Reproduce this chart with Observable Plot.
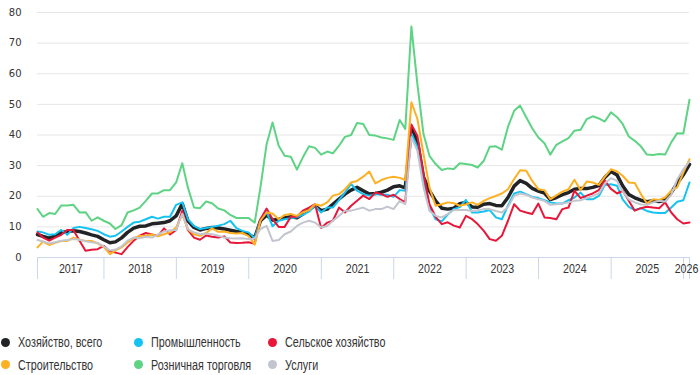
<!DOCTYPE html>
<html><head><meta charset="utf-8">
<script src="https://cdn.jsdelivr.net/npm/d3@7"></script>
<script src="https://cdn.jsdelivr.net/npm/@observablehq/plot@0.6"></script>
<style>
html,body{margin:0;padding:0;background:#fff;}
body{width:700px;height:375px;overflow:hidden;}
#legend{padding-top:41px;display:grid;grid-template-columns:133px 134px 220px;grid-auto-rows:22.5px;
  font-family:"Liberation Sans",Arial,sans-serif;font-size:14px;color:#333;}
.item{display:flex;align-items:center;white-space:nowrap;}
.dot{width:9px;height:9px;border-radius:50%;margin-left:1px;margin-right:8px;flex:none;}
.lab{display:inline-block;transform:scaleX(0.77);transform-origin:0 50%;}
</style></head>
<body><div id="chart"></div><div id="legend"></div>
<script>
// Series names (legend order) and colours
const seriesNames = ["Хозяйство, всего", "Промышленность", "Сельское хозяйство", "Строительство", "Розничная торговля", "Услуги"];
const seriesColors = ["#222326", "#14c3f2", "#e8173a", "#fdb022", "#5ed384", "#c3c5ce"];
const seriesWidths = [3.5, 2, 2, 2, 2, 2];
const startYear = 2017; // monthly values, Jan 2017 .. Jan 2026
const yTicks = [0, 10, 20, 30, 40, 50, 60, 70, 80];

const economy = [
  7.5, 6.9, 6.3, 7.1, 8.1, 8.5, 8.7, 8.5, 8.0, 7.4, 6.9, 5.8,
  4.8, 5.1, 6.4, 8.2, 9.6, 10.2, 10.3, 11.0, 11.2, 11.4, 12.0, 13.6,
  17.5, 12.0, 9.8, 9.0, 9.5, 9.8, 9.6, 9.3, 8.9, 8.5, 8.2, 7.6,
  6.4, 12.0, 13.8, 12.2, 12.5, 12.9, 13.3, 13.0, 14.2, 15.8, 16.9, 15.3,
  15.8, 17.4, 19.1, 20.7, 22.0, 22.9, 21.8, 20.7, 20.9, 21.3, 22.0, 23.1,
  23.4, 22.7, 42.0, 38.0, 26.2, 21.8, 18.5, 16.1, 15.8, 16.1, 17.6, 18.0,
  16.5, 16.4, 17.4, 17.6, 17.0, 16.9, 19.6, 23.3, 25.1, 24.2, 22.6, 21.7,
  21.0, 18.9, 19.6, 20.5, 21.2, 22.3, 22.5, 22.5, 22.9, 23.5, 26.1, 28.1,
  26.9, 23.4, 20.6, 19.5, 18.7, 18.2, 18.5, 18.3, 18.7, 21.2, 24.3, 27.0,
  30.4
];
const industry = [
  8.5, 8.2, 7.4, 7.6, 9.0, 7.4, 9.6, 10.0, 9.6, 9.2, 8.7, 7.6,
  6.8, 7.1, 8.5, 10.0, 11.4, 11.7, 12.5, 13.3, 12.7, 13.3, 13.3, 17.2,
  18.0, 12.5, 10.3, 9.3, 9.6, 10.0, 10.4, 10.9, 12.0, 9.6, 8.7, 8.2,
  6.3, 12.5, 14.8, 10.2, 12.0, 12.5, 12.8, 13.1, 13.9, 15.0, 16.9, 14.7,
  16.3, 16.3, 18.7, 21.2, 24.0, 21.8, 20.7, 20.2, 20.7, 20.5, 20.5, 19.8,
  22.0, 21.8, 40.5, 36.0, 25.0, 16.4, 12.5, 11.8, 14.0, 15.8, 16.5, 18.8,
  14.7, 14.7, 15.0, 15.5, 13.1, 12.5, 17.0, 20.9, 21.5, 20.7, 19.8, 19.4,
  18.7, 18.0, 17.6, 17.6, 18.7, 19.6, 21.2, 19.0, 19.0, 20.1, 23.7, 23.9,
  23.4, 19.0, 16.5, 15.5, 16.1, 15.2, 14.7, 14.5, 14.5, 16.3, 18.2, 18.7,
  24.5
];
const agriculture = [
  8.2, 6.5, 5.5, 6.5, 7.4, 9.0, 9.0, 5.5, 2.2, 2.5, 2.7, 3.8,
  2.0, 1.6, 1.1, 3.4, 5.5, 7.1, 8.0, 7.5, 7.0, 9.5, 7.5, 9.0,
  15.3, 9.0, 6.5, 5.8, 7.2, 6.8, 6.5, 6.9, 4.9, 4.7, 4.8, 5.0,
  4.5, 12.5, 16.0, 12.5, 10.0, 10.0, 13.3, 13.3, 15.3, 16.3, 17.4, 9.6,
  11.4, 12.0, 16.3, 14.7, 16.9, 18.5, 20.2, 19.1, 21.2, 20.7, 19.8, 20.5,
  19.1, 18.0, 43.4, 39.8, 27.3, 17.4, 13.3, 10.9, 11.5, 10.4, 9.8, 13.6,
  12.5, 10.9, 8.7, 6.0, 5.5, 7.1, 12.0, 17.4, 15.3, 14.7, 14.2, 17.6,
  13.1, 12.9, 12.5, 15.8, 16.3, 21.8, 19.4, 20.2, 20.9, 22.0, 25.1, 22.4,
  20.9, 21.8, 18.5, 15.3, 16.1, 16.6, 16.3, 16.1, 18.0, 14.7, 12.5, 11.1,
  11.4
];
const construction = [
  3.3, 5.2, 4.1, 4.8, 5.4, 5.4, 6.5, 5.8, 5.4, 5.4, 4.6, 3.5,
  1.1, 2.3, 3.3, 4.9, 6.3, 7.0, 7.1, 7.5, 6.9, 7.6, 8.2, 9.8,
  14.0, 9.2, 7.6, 7.1, 8.0, 9.5, 8.4, 8.5, 8.0, 7.8, 8.0, 7.0,
  4.2, 12.0, 14.7, 14.4, 12.5, 13.9, 14.2, 13.6, 14.7, 15.5, 17.4, 16.9,
  18.0, 20.2, 20.7, 22.3, 24.5, 25.0, 26.4, 28.1, 24.2, 25.3, 26.0, 26.4,
  26.0, 25.3, 50.7, 45.3, 33.8, 22.9, 16.9, 17.4, 18.0, 17.7, 16.9, 17.4,
  18.0, 17.2, 18.5, 19.4, 20.1, 20.9, 22.3, 25.6, 28.5, 28.3, 25.0, 22.3,
  22.0, 19.0, 20.3, 21.5, 22.3, 25.4, 22.0, 24.8, 24.5, 23.7, 26.3, 28.8,
  28.1, 26.7, 24.5, 24.3, 20.7, 17.7, 19.0, 18.8, 19.6, 21.8, 22.9, 27.7,
  32.1
];
const retail = [
  15.8, 13.3, 14.5, 14.2, 17.0, 17.0, 17.2, 14.7, 14.8, 12.0, 13.1, 12.0,
  11.1, 9.3, 10.6, 14.7, 15.4, 16.3, 18.5, 20.9, 20.9, 22.0, 22.0, 24.5,
  30.8, 22.9, 16.3, 16.1, 18.3, 17.7, 16.0, 15.4, 13.9, 12.9, 12.9, 12.9,
  11.4, 22.9, 37.0, 44.1, 36.5, 33.2, 32.9, 28.7, 32.7, 36.3, 35.8, 33.6,
  34.6, 34.0, 36.5, 39.4, 40.0, 43.9, 43.6, 40.0, 39.8, 39.2, 38.9, 38.4,
  44.9, 42.0, 75.4, 56.7, 40.3, 33.2, 30.5, 28.6, 29.1, 28.9, 30.8, 30.5,
  30.2, 29.4, 31.6, 36.2, 36.3, 35.2, 42.7, 47.9, 49.6, 45.8, 42.2, 39.2,
  37.3, 33.6, 36.8, 37.9, 39.0, 41.4, 41.7, 45.2, 46.1, 45.4, 44.4, 47.4,
  45.8, 43.6, 39.5, 38.1, 36.3, 33.6, 33.5, 33.8, 33.6, 37.6, 40.6, 40.5,
  51.5
];
const services = [
  5.7, 5.2, 4.6, 5.0, 5.5, 5.7, 6.0, 5.8, 5.3, 5.0, 4.8, 3.6,
  2.3, 2.6, 3.6, 5.5, 6.5, 6.3, 6.8, 6.5, 7.5, 8.5, 8.9, 9.0,
  14.3, 9.3, 8.2, 7.6, 7.8, 7.6, 7.1, 6.5, 6.3, 6.2, 6.3, 6.0,
  6.2, 9.3, 10.3, 5.4, 5.7, 7.6, 8.5, 10.3, 11.4, 12.0, 11.4, 9.8,
  10.3, 12.0, 13.6, 15.3, 15.3, 15.8, 16.3, 15.3, 15.8, 15.8, 16.6, 15.8,
  18.5, 17.4, 39.3, 34.9, 22.9, 15.3, 13.6, 13.1, 14.2, 15.5, 15.5, 15.5,
  15.2, 15.4, 15.8, 15.8, 15.2, 14.7, 16.5, 20.1, 20.9, 20.5, 19.6, 19.0,
  18.5, 17.2, 17.4, 17.6, 18.0, 18.5, 18.7, 19.4, 20.1, 20.9, 24.2, 25.9,
  25.0, 21.5, 19.0, 18.0, 17.3, 17.2, 18.0, 18.5, 18.3, 20.5, 25.5, 28.8,
  31.3
];

const allSeries = [economy, industry, agriculture, construction, retail, services];
const monthDate = i => new Date(Date.UTC(startYear, i + 1, 0)); // end of month
const n = economy.length;
const start = monthDate(0), end = monthDate(n - 1);
const rowsFor = arr => arr.map((v, i) => ({date: monthDate(i), value: v}));

const endYear = end.getUTCFullYear();
const boundaries = [start, ...d3.range(startYear + 1, endYear + 1).map(y => new Date(Date.UTC(y, 0, 1))), end];
const mids = d3.range(startYear, endYear + 1).map(y => {
  const a = Math.max(+start, Date.UTC(y, 0, 1)), b = Math.min(+end, Date.UTC(y + 1, 0, 1));
  return new Date((a + b) / 2);
});

const chart = Plot.plot({
  width: 700, height: 290,
  marginLeft: 37, marginRight: 11, marginTop: 12, marginBottom: 33,
  style: {background: "#fff", color: "#333", fontFamily: "DejaVu Sans, sans-serif"},
  x: {type: "utc", domain: [start, end]},
  y: {domain: [0, 80]},
  marks: [
    Plot.gridY(yTicks, {stroke: "#e6e6e6", strokeOpacity: 1}),
    Plot.axisY(yTicks, {tickSize: 0, tickPadding: 16, fontSize: 10, label: null, fill: "#333"}),
    ...allSeries.map((arr, k) => Plot.line(rowsFor(arr), {
      x: "date", y: "value", stroke: seriesColors[k], strokeWidth: seriesWidths[k],
      strokeLinejoin: "round", strokeLinecap: "round"
    })),
    Plot.ruleY([0], {stroke: "#ccd6eb", strokeWidth: 1}),
    Plot.axisX(boundaries, {tickSize: 22, stroke: "#ccd6eb", strokeOpacity: 1, tickFormat: () => "", label: null}),
    Plot.axisX(mids, {tickSize: 0, tickPadding: 6, tickFormat: d => String(d.getUTCFullYear()), label: null,
      fontSize: 13, fontFamily: '"Liberation Sans", Arial, sans-serif', fill: "#333"})
  ]
});
// narrow the year labels horizontally (condensed look of the original)
d3.select(chart).selectAll('g[aria-label="x-axis tick label"] text').each(function() {
  const t = this.getAttribute("transform") || "";
  this.setAttribute("transform", t + " scale(0.82,1)");
});
document.getElementById("chart").appendChild(chart);

const legend = document.getElementById("legend");
seriesNames.forEach((name, k) => {
  const item = document.createElement("div");
  item.className = "item";
  const dot = document.createElement("span");
  dot.className = "dot";
  dot.style.background = seriesColors[k];
  const label = document.createElement("span");
  label.className = "lab";
  label.textContent = name;
  item.appendChild(dot); item.appendChild(label);
  legend.appendChild(item);
});
</script>
</body></html>
